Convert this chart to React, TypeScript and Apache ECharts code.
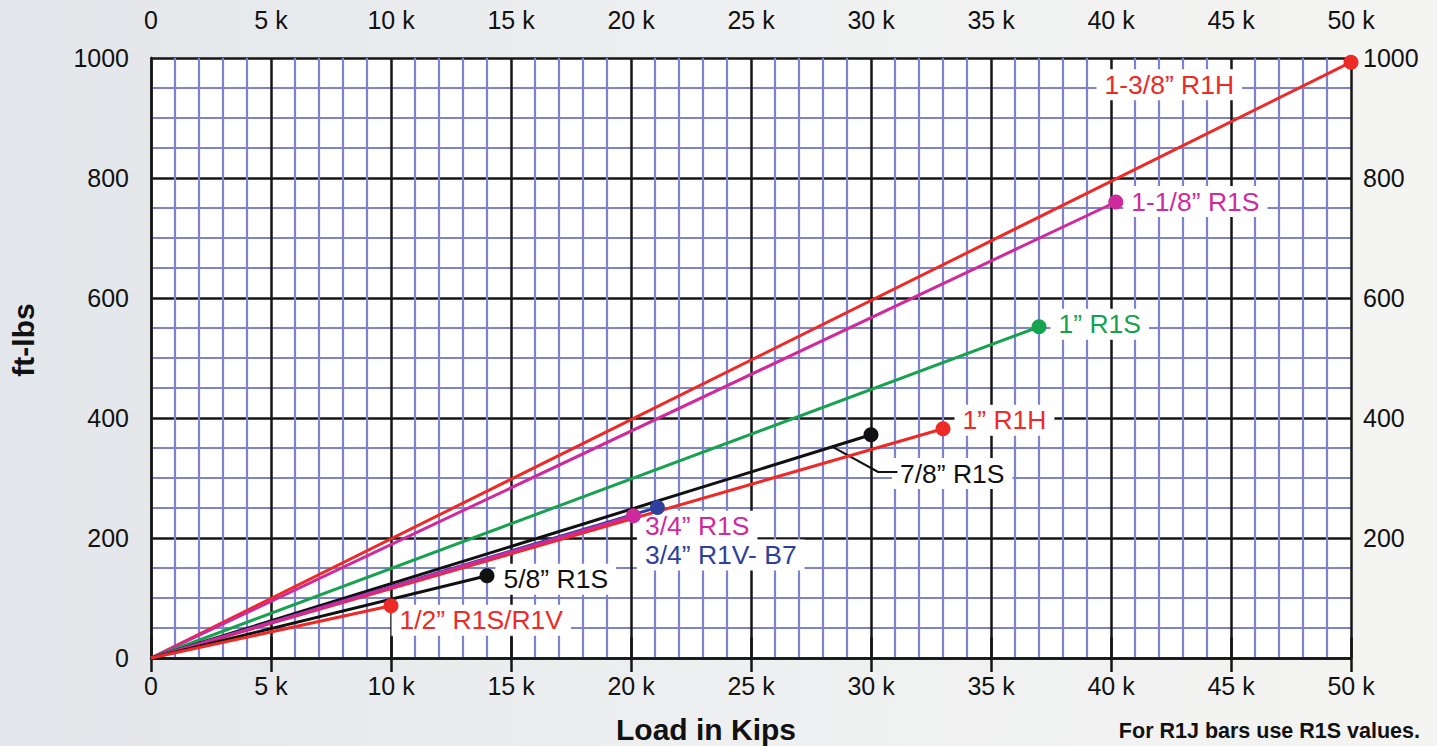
import React, { useEffect, useRef } from "react";
import * as echarts from "echarts";

// ---- data ----
const seriesNames = [
  "1-3/8” R1H",
  "1-1/8” R1S",
  "1” R1S",
  "1” R1H",
  "7/8” R1S",
  "3/4” R1V- B7",
  "3/4” R1S",
  "5/8” R1S",
  "1/2” R1S/R1V",
];
const maxLoad = [50000, 40200, 37000, 33000, 30000, 21100, 20100, 14000, 10000]; // lbs (kips*1000)
const maxTorque = [993, 760, 552, 382, 372, 251, 237, 137, 87]; // ft-lbs
const seriesColors = ["#ee2a27", "#cf2a9b", "#17a24f", "#ee2a27", "#111111", "#2f3f9c", "#cf2a9b", "#111111", "#ee2a27"];
// leader line for 7/8" R1S label
const leaderLoad = [28400, 30300, 31100];
const leaderTorque = [352, 310, 310];

// label offsets (px) relative to anchor point: [dx, dy]
const labelOffsets: number[][] = [
  [-254, 23],
  [8, 0],
  [12, -2],
  [12, -8],
  [-5, 2],
  [-20, 48],
  [4, 11],
  [9, 4],
  [1, 15],
];

const FONT = "'Liberation Sans', Arial, Helvetica, sans-serif";

export default function App() {
  const ref = useRef<HTMLDivElement>(null);
  useEffect(() => {
    if (!ref.current) return;
    const chart = echarts.init(ref.current, undefined, { renderer: "svg" });
    const fmtX = (v: number) => (v === 0 ? "0" : v / 1000 + " k");
    const blue = "#7f83cc";
    const black = "#151515";

    const lineSeries = seriesNames.map((name, i) => ({
      name,
      type: "line",
      xAxisIndex: 0,
      yAxisIndex: 0,
      data: [
        [0, 0],
        [maxLoad[i], maxTorque[i]],
      ],
      symbol: "circle",
      showSymbol: true,
      symbolSize: (_v: any, p: any) => (p.dataIndex === 1 ? 15 : 0),
      lineStyle: { color: seriesColors[i], width: 3 },
      itemStyle: { color: seriesColors[i], opacity: 1 },
      z: 4,
      silent: true,
    }));

    const labelData = seriesNames.map((name, i) => {
      const isLeader = i === 4;
      const ax = isLeader ? leaderLoad[leaderLoad.length - 1] : maxLoad[i];
      const ay = isLeader ? leaderTorque[leaderTorque.length - 1] : maxTorque[i];
      return {
        value: [ax, ay],
        label: {
          show: true,
          formatter: name,
          position: labelOffsets[i],
          align: "left",
          verticalAlign: "middle",
          color: seriesColors[i],
          opacity: 1,
          fontSize: 26.5,
          fontFamily: FONT,
          backgroundColor: "#ffffff",
          padding: [2, 8, 2, 8],
        },
      };
    });

    const option: any = {
      animation: false,
      backgroundColor: new echarts.graphic.LinearGradient(0, 0, 1, 0, [
        { offset: 0, color: "#e3e6ea" },
        { offset: 0.5, color: "#eeeff0" },
        { offset: 1, color: "#f4f4f2" },
      ]),
      textStyle: { fontFamily: FONT },
      grid: {
        left: 151,
        right: 86,
        top: 58,
        bottom: 88,
        show: true,
        backgroundColor: "#ffffff",
        borderWidth: 0,
      },
      xAxis: [
        {
          type: "value",
          position: "bottom",
          min: 0,
          max: 50000,
          interval: 5000,
          axisLine: { show: true, lineStyle: { color: black, width: 2.5 } },
          axisTick: { show: true, length: 14, lineStyle: { color: black, width: 2.5 } },
          axisLabel: { formatter: fmtX, fontSize: 25, color: "#111", margin: 15, fontFamily: FONT },
          splitLine: { show: true, lineStyle: { color: black, width: 2.5 } },
          minorTick: { show: false, splitNumber: 5 },
          minorSplitLine: { show: true, lineStyle: { color: blue, width: 2.2 } },
        },
        {
          type: "value",
          position: "top",
          min: 0,
          max: 50000,
          interval: 5000,
          axisLine: { show: false },
          axisTick: { show: true, length: 21, lineStyle: { color: black, width: 2.5 } },
          axisLabel: { formatter: fmtX, fontSize: 25, color: "#111", margin: 26, fontFamily: FONT },
          splitLine: { show: false },
        },
      ],
      yAxis: [
        {
          type: "value",
          position: "left",
          min: 0,
          max: 1000,
          interval: 200,
          axisLine: { show: true, lineStyle: { color: "#666", width: 2.5 } },
          axisTick: { show: false },
          axisLabel: {
            fontSize: 25,
            color: "#111",
            margin: 22,
            fontFamily: FONT,
            formatter: (v: number) => String(v),
          },
          splitLine: { show: true, lineStyle: { color: black, width: 2.5 } },
          minorTick: { show: false, splitNumber: 4 },
          minorSplitLine: { show: true, lineStyle: { color: blue, width: 2.2 } },
        },
        {
          type: "value",
          position: "right",
          min: 0,
          max: 1000,
          interval: 200,
          axisLine: { show: true, lineStyle: { color: black, width: 2.5 } },
          axisTick: { show: false },
          axisLabel: {
            fontSize: 25,
            color: "#111",
            margin: 12,
            fontFamily: FONT,
            formatter: (v: number) => (v === 0 ? "" : String(v)),
          },
          splitLine: { show: false },
        },
      ],
      graphic: [
        {
          type: "text",
          x: 706,
          y: 729,
          silent: true,
          style: {
            text: "Load in Kips",
            fill: "#111",
            font: `bold 30px ${FONT}`,
            textAlign: "center",
            textVerticalAlign: "middle",
          },
        },
        {
          type: "text",
          x: 23,
          y: 340,
          rotation: Math.PI / 2,
          silent: true,
          style: {
            text: "ft-lbs",
            fill: "#111",
            font: `bold 30px ${FONT}`,
            textAlign: "center",
            textVerticalAlign: "middle",
          },
        },
        {
          type: "text",
          x: 1420,
          y: 731,
          silent: true,
          style: {
            text: "For R1J bars use R1S values.",
            fill: "#111",
            font: `bold 21.5px ${FONT}`,
            textAlign: "right",
            textVerticalAlign: "middle",
          },
        },
      ],
      series: [
        {
          type: "scatter",
          name: "labels",
          xAxisIndex: 0,
          yAxisIndex: 0,
          symbol: "circle",
          symbolSize: 1,
          itemStyle: { color: "rgba(0,0,0,0)", opacity: 1 },
          data: labelData,
          z: 2,
          silent: true,
        },
        {
          type: "line",
          name: "leader",
          xAxisIndex: 0,
          yAxisIndex: 0,
          data: leaderLoad.map((x, i) => [x, leaderTorque[i]]),
          symbol: "none",
          lineStyle: { color: "#111", width: 2 },
          z: 4,
          silent: true,
        },
        ...lineSeries,
      ],
    };
    chart.setOption(option);
    return () => chart.dispose();
  }, []);
  return (
    <div
      ref={ref}
      style={{ position: "fixed", left: 0, top: 0, width: 1437, height: 746 }}
    />
  );
}
